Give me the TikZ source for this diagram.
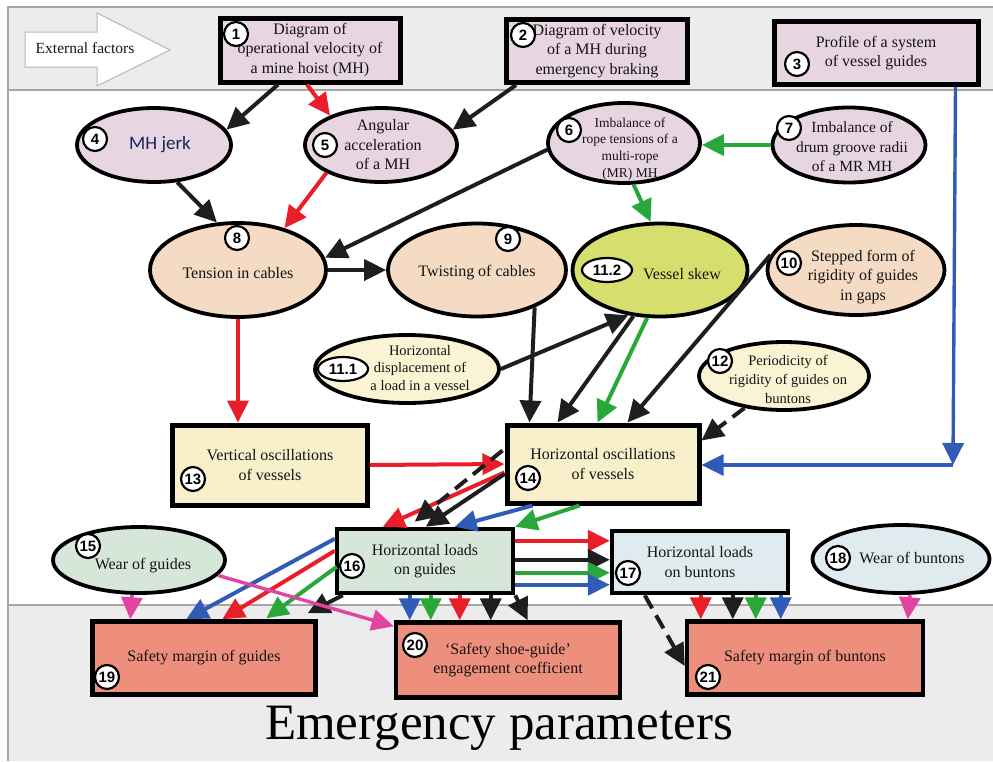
\documentclass[tikz,border=0pt]{standalone}
\usepackage{fontspec}
\setmainfont{Liberation Serif}
\newfontfamily\badgefont{Liberation Sans}
\newfontfamily\jerkfont{Carlito}
\usetikzlibrary{shapes.geometric,arrows.meta,calc}

\definecolor{hoistpink}{RGB}{231,214,226}
\definecolor{cablepeach}{RGB}{245,218,196}
\definecolor{skewgreen}{RGB}{214,222,110}
\definecolor{loadcream}{RGB}{250,243,212}
\definecolor{osccream}{RGB}{248,240,203}
\definecolor{guidemint}{RGB}{214,231,218}
\definecolor{buntonblue}{RGB}{224,235,240}
\definecolor{marginred}{RGB}{238,142,124}
\definecolor{bandgray}{RGB}{236,236,236}
\definecolor{framegray}{RGB}{165,165,165}
\definecolor{linkred}{RGB}{232,30,40}
\definecolor{linkgreen}{RGB}{40,168,56}
\definecolor{linkblue}{RGB}{48,92,184}
\definecolor{linkblack}{RGB}{30,30,30}
\definecolor{linkpink}{RGB}{226,68,160}
\definecolor{jerkblue}{RGB}{25,35,95}
\definecolor{textgray}{RGB}{20,20,20}

\begin{document}
\begin{tikzpicture}[x=1pt,y=-1pt]
        \tikzstyle{txt}=[align=center,text=textgray,inner sep=0pt,font=\fontsize{16}{19.5}\selectfont]
        \tikzstyle{factor}=[rectangle,draw=black,line width=5pt,fill=hoistpink,inner sep=2pt,align=center,text=textgray,font=\fontsize{16}{19.5}\selectfont]
        \tikzstyle{oval}=[ellipse,draw=black,line width=3.8pt,inner sep=0pt]
        \tikzstyle{badge}=[circle,draw=black,line width=2.2pt,fill=white,inner sep=0pt,minimum size=24pt,font=\badgefont\bfseries\fontsize{15}{15}\selectfont]
        \tikzstyle{widebadge}=[badge,ellipse,minimum width=50pt,minimum height=24pt]
        \tikzstyle{link}=[line width=4pt,-{Triangle[length=22pt,width=21pt]}]
        \tikzstyle{dashline}=[dash pattern=on 15pt off 8pt]

        \useasboundingbox (0,0) rectangle (993,761);

        % bands
        \fill[bandgray] (8,7) rectangle (993,90);
        \fill[bandgray] (8,605) rectangle (993,761);
        \draw[framegray,line width=1.5pt] (993,7) -- (8,7) -- (8,761);
        \draw[framegray,line width=1.5pt] (8,90) -- (993,90);
        \draw[framegray,line width=1.5pt] (8,605) -- (993,605);

        % external factors
        \draw[framegray!80,fill=white,line width=1pt] (25,32) -- (97,32) -- (97,13) -- (170,50) -- (97,86) -- (97,67) -- (25,67) -- cycle;
        \node [txt,font=\fontsize{15.5}{18}\selectfont] (ext) at (85,48) {External factors};

        \node [factor,minimum width=180,minimum height=64] (n1) at (310,50) {Diagram of\\operational velocity of\\a mine hoist (MH)};
        \node [factor,minimum width=181,minimum height=63] (n2) at (597,51) {Diagram of velocity\\of a MH during\\emergency braking};
        \node [factor,minimum width=204,minimum height=63] (n3) at (876,53) {Profile of a system\\of vessel guides};

        % ellipses
        \node [oval,fill=hoistpink,minimum width=154,minimum height=74] (n4) at (154,145) {};
        \node [oval,fill=hoistpink,minimum width=152,minimum height=74] (n5) at (381,145) {};
        \node [oval,fill=hoistpink,minimum width=152,minimum height=80] (n6) at (624,143) {};
        \node [oval,fill=hoistpink,minimum width=153,minimum height=75] (n7) at (849,145) {};
        \node [oval,fill=cablepeach,minimum width=176,minimum height=94] (n8) at (238,270) {};
        \node [oval,fill=cablepeach,minimum width=178,minimum height=93] (n9) at (477,270) {};
        \node [oval,fill=skewgreen,minimum width=175,minimum height=93] (n112) at (660,270) {};
        \node [oval,fill=cablepeach,minimum width=177,minimum height=90] (n10) at (856,270) {};
        \node [oval,fill=loadcream,minimum width=184,minimum height=68] (n111) at (407,369) {};
        \node [oval,fill=loadcream,minimum width=170,minimum height=68] (n12) at (784,376) {};
        \node [oval,fill=guidemint,minimum width=172,minimum height=66] (n15) at (139,560) {};
        \node [oval,fill=buntonblue,minimum width=177,minimum height=68] (n18) at (901,559) {};

        \node [txt,text=jerkblue,font=\jerkfont\fontsize{19}{22}\selectfont] (t4) at (160,145) {MH jerk};
        \node [txt] (t5) at (383,145) {Angular\\acceleration\\of a MH};
        \node [txt,font=\fontsize{13.5}{16.7}\selectfont] (t6) at (630,149) {Imbalance of\\rope tensions of a\\multi-rope\\(MR) MH};
        \node [txt,font=\fontsize{15.5}{19.5}\selectfont] (t7) at (852,147) {Imbalance of\\drum groove radii\\of a MR MH};
        \node [txt] (t8) at (238,273) {Tension in cables};
        \node [txt] (t9) at (477,273) {Twisting of cables};
        \node [txt] (t112) at (682,274) {Vessel skew};
        \node [txt] (t10) at (863,277) {Stepped form of\\rigidity of guides\\in gaps};
        \node [txt,font=\fontsize{14.5}{17.5}\selectfont] (t111) at (420,368) {Horizontal\\displacement of\\a load in a vessel};
        \node [txt,font=\fontsize{14.5}{19}\selectfont] (t12) at (788,379) {Periodicity of\\rigidity of guides on\\buntons};
        \node [txt] (t15) at (143,566) {Wear of guides};
        \node [txt] (t18) at (912,558) {Wear of buntons};

        % boxes
        \node [factor,fill=osccream,minimum width=195,minimum height=80] (n13) at (270,465) {Vertical oscillations\\of vessels};
        \node [factor,fill=osccream,minimum width=192,minimum height=78] (n14) at (603,464) {Horizontal oscillations\\of vessels};
        \node [factor,fill=guidemint,line width=4.5pt,minimum width=176,minimum height=64] (n16) at (425,561) {Horizontal loads\\on guides};
        \node [factor,fill=buntonblue,line width=4.5pt,minimum width=176,minimum height=62] (n17) at (700,562) {Horizontal loads\\on buntons};
        \node [factor,fill=marginred,line width=4.5pt,minimum width=223,minimum height=73] (n19) at (204,658) {Safety margin of guides};
        \node [factor,fill=marginred,line width=4.5pt,minimum width=224,minimum height=75] (n20) at (508,660) {`Safety shoe-guide'\\engagement coefficient};
        \node [factor,fill=marginred,line width=4.5pt,minimum width=236,minimum height=73] (n21) at (805,658) {Safety margin of buntons};

        % numbers
        \node [badge] (b1) at (236,34) {1};
        \node [badge] (b2) at (523,35) {2};
        \node [badge] (b3) at (797,64) {3};
        \node [badge] (b4) at (95,139) {4};
        \node [badge] (b5) at (325,145) {5};
        \node [badge] (b6) at (569,130) {6};
        \node [badge] (b7) at (789,128) {7};
        \node [badge] (b8) at (237,238) {8};
        \node [badge] (b9) at (508,239) {9};
        \node [widebadge] (b112) at (607,270) {11.2};
        \node [badge] (b10) at (789,263) {10};
        \node [widebadge] (b111) at (343,369) {11.1};
        \node [badge] (b12) at (720,361) {12};
        \node [badge] (b13) at (193,479) {13};
        \node [badge] (b14) at (528,478) {14};
        \node [badge] (b15) at (88,546) {15};
        \node [badge] (b16) at (352,566) {16};
        \node [badge] (b17) at (628,573) {17};
        \node [badge] (b18) at (838,558) {18};
        \node [badge] (b19) at (107,677) {19};
        \node [badge] (b20) at (415,645) {20};
        \node [badge] (b21) at (708,677) {21};

        % links from the external factors
        \draw[link,linkblack] ($(n1.south)+(-32,0)$) -- (n4.12);
        \draw[link,linkred] ($(n1.south)+(-3,0)$) -- (n5.150);
        \draw[link,linkblack] ($(n2.south west)+(12,0)$) -- (n5.12);
        \draw[link,linkblack] (n4.-58) -- (n8.114);
        \draw[link,linkred] (n5.-153) -- (n8.42);
        \draw[link,linkblack] (n6.185) -- (n8.8);
        \draw[link,linkgreen] (n7.west) -- (n7.west -| n6.east);
        \draw[link,linkgreen] (n6.-77) -- (n112.101);
        \draw[link,linkblack] (n8.east) -- (n9.west);
        \draw[link,linkred] (n8.south) -- (n8.south |- n13.north);

        % into the horizontal oscillations
        \draw[link,linkblack] (n9.-33) -- ($(n14.north west)+(25,0)$);
        \draw[link,linkblack] (n111.east) -- (n112.-125);
        \draw[link,linkblack] (n112.-120) -- ($(n14.north west)+(53,0)$);
        \draw[link,linkgreen] (n112.-105) -- ($(n14.north west)+(93,0)$);
        \draw[link,linkblack] (n10.170) -- ($(n14.north west)+(123,0)$);
        \draw[link,linkblack,dashline] (n12.-141) -- ($(n14.north east)+(0,18)$);
        \coordinate (c3) at (953,465);
        \draw[link,linkblue,line width=3.4pt] ($(n3.south east)+(-25,0)$) -- (c3);
        \draw[link,linkblue,line width=3.4pt] (c3) -- (c3 -| n14.east);
        \draw[link,linkred] (n13.east) -- (n14.west);

        % down to the loads on guides
        \draw[link,linkred] ($(n14.south west)+(0,-33)$) -- ($(n16.north west)+(48,0)$);
        \draw[link,linkblack,dashline] ($(n14.north west)+(-2,28)$) -- ($(n16.north west)+(80,-5)$);
        \draw[link,linkblack] ($(n14.west)+(0,10)$) -- ($(n16.north west)+(91,0)$);
        \draw[link,linkblue] ($(n14.south west)+(28,0)$) -- ($(n16.north west)+(120,0)$);
        \draw[link,linkgreen] ($(n14.south west)+(75,0)$) -- (n16.north east);

        % loads on guides to loads on buntons
        \draw[link,linkred] ($(n16.north east)+(0,14)$) -- ($(n17.north west)+(0,12)$);
        \draw[link,linkblack] ($(n16.north east)+(0,33)$) -- ($(n17.north west)+(0,31)$);
        \draw[link,linkgreen] ($(n16.north east)+(0,46)$) -- ($(n17.north west)+(0,44)$);
        \draw[link,linkblue] ($(n16.north east)+(0,58)$) -- ($(n17.north west)+(0,56)$);

        % emergency parameters
        \draw[link,linkblue] ($(n16.north west)+(0,12)$) -- ($(n19.north west)+(96,0)$);
        \draw[link,linkred] ($(n16.north west)+(0,24)$) -- ($(n19.north west)+(132,0)$);
        \draw[link,linkgreen] ($(n16.north west)+(2,40)$) -- ($(n19.north west)+(176,-1)$);
        \draw[link,linkblack] ($(n16.south west)+(8,0)$) -- ($(n19.north east)+(-10,-6)$);
        \draw[link,linkpink,line width=3.4pt] ($(n15.south)+(-7,0)$) -- ($(n19.north west)+(40,0)$);
        \draw[link,linkpink,line width=3.4pt] (n15.-11) -- ($(n20.north west)+(0,6)$);

        \draw[link,linkblue] ($(n16.south west)+(75,0)$) -- ($(n20.north west)+(16,0)$);
        \draw[link,linkgreen] ($(n16.south west)+(96,0)$) -- ($(n20.north west)+(37,0)$);
        \draw[link,linkred] ($(n16.south west)+(125,0)$) -- ($(n20.north west)+(66,0)$);
        \draw[link,linkblack] ($(n16.south west)+(156,0)$) -- ($(n20.north west)+(97,0)$);
        \draw[link,linkblack] (n16.south east) -- ($(n20.north west)+(134,0)$);

        \draw[link,linkred] ($(n17.south west)+(91,0)$) -- ($(n21.north west)+(16,0)$);
        \draw[link,linkblack] ($(n17.south west)+(123,0)$) -- ($(n21.north west)+(48,0)$);
        \draw[link,linkgreen] ($(n17.south west)+(146,0)$) -- ($(n21.north west)+(71,0)$);
        \draw[link,linkblue] ($(n17.south west)+(171,0)$) -- ($(n21.north west)+(96,0)$);
        \draw[link,linkblack,dashline] ($(n17.south west)+(35,0)$) -- ($(n21.west)+(0,8)$);
        \draw[link,linkpink,line width=3.4pt] ($(n18.south)+(9,0)$) -- ($(n21.north west)+(223,0)$);

        \node [text=black,inner sep=0pt,font=\fontsize{51}{56}\selectfont] (emerg) at (499,728) {Emergency parameters};
\end{tikzpicture}
\end{document}
